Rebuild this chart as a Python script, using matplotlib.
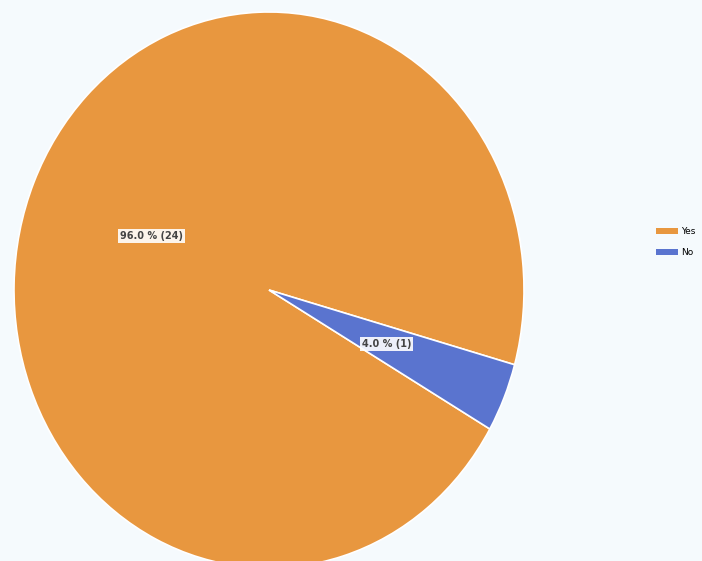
import matplotlib
matplotlib.use("Agg")
import matplotlib.pyplot as plt
import numpy as np

categories = ["Yes", "No"]
counts = [24, 1]
colors = ["#e8973f", "#5a74cf"]

W, H = 702, 561
fig = plt.figure(figsize=(W / 100, H / 100), dpi=100)
bg = "#f5fafd"
fig.patch.set_facecolor(bg)

cx, cy, rx, ry = 269, 290, 255, 278
ax = fig.add_axes([(cx - rx) / W, (H - (cy + ry)) / H, 2 * rx / W, 2 * ry / H])
ax.set_facecolor(bg)
ax.axis("off")

total = sum(counts)

def fmt(p):
    n = int(round(p * total / 100))
    return f"{p:.1f} % ({n})"

wedges, texts, autotexts = ax.pie(
    counts, colors=colors, startangle=-15.6, counterclock=True,
    radius=1, autopct=fmt, pctdistance=0.5,
    wedgeprops=dict(edgecolor="white", linewidth=1.2),
    textprops=dict(fontsize=7, color="#444444", fontweight="bold"),
)
ax.set_xlim(-1, 1)
ax.set_ylim(-1, 1)
ax.set_aspect("auto")
for t in autotexts:
    t.set_bbox(dict(facecolor="white", edgecolor="none", pad=1.5, alpha=0.9))

leg = fig.legend(
    wedges, categories, loc="upper left",
    bbox_to_anchor=(648 / W, 1 - 219 / H), frameon=False,
    fontsize=6.5, handlelength=2.4, handleheight=0.6, labelspacing=1.3,
    handletextpad=0.4,
)
for h in leg.legend_handles:
    h.set_edgecolor("none")

fig.savefig("out.png", dpi=100, facecolor=bg)
